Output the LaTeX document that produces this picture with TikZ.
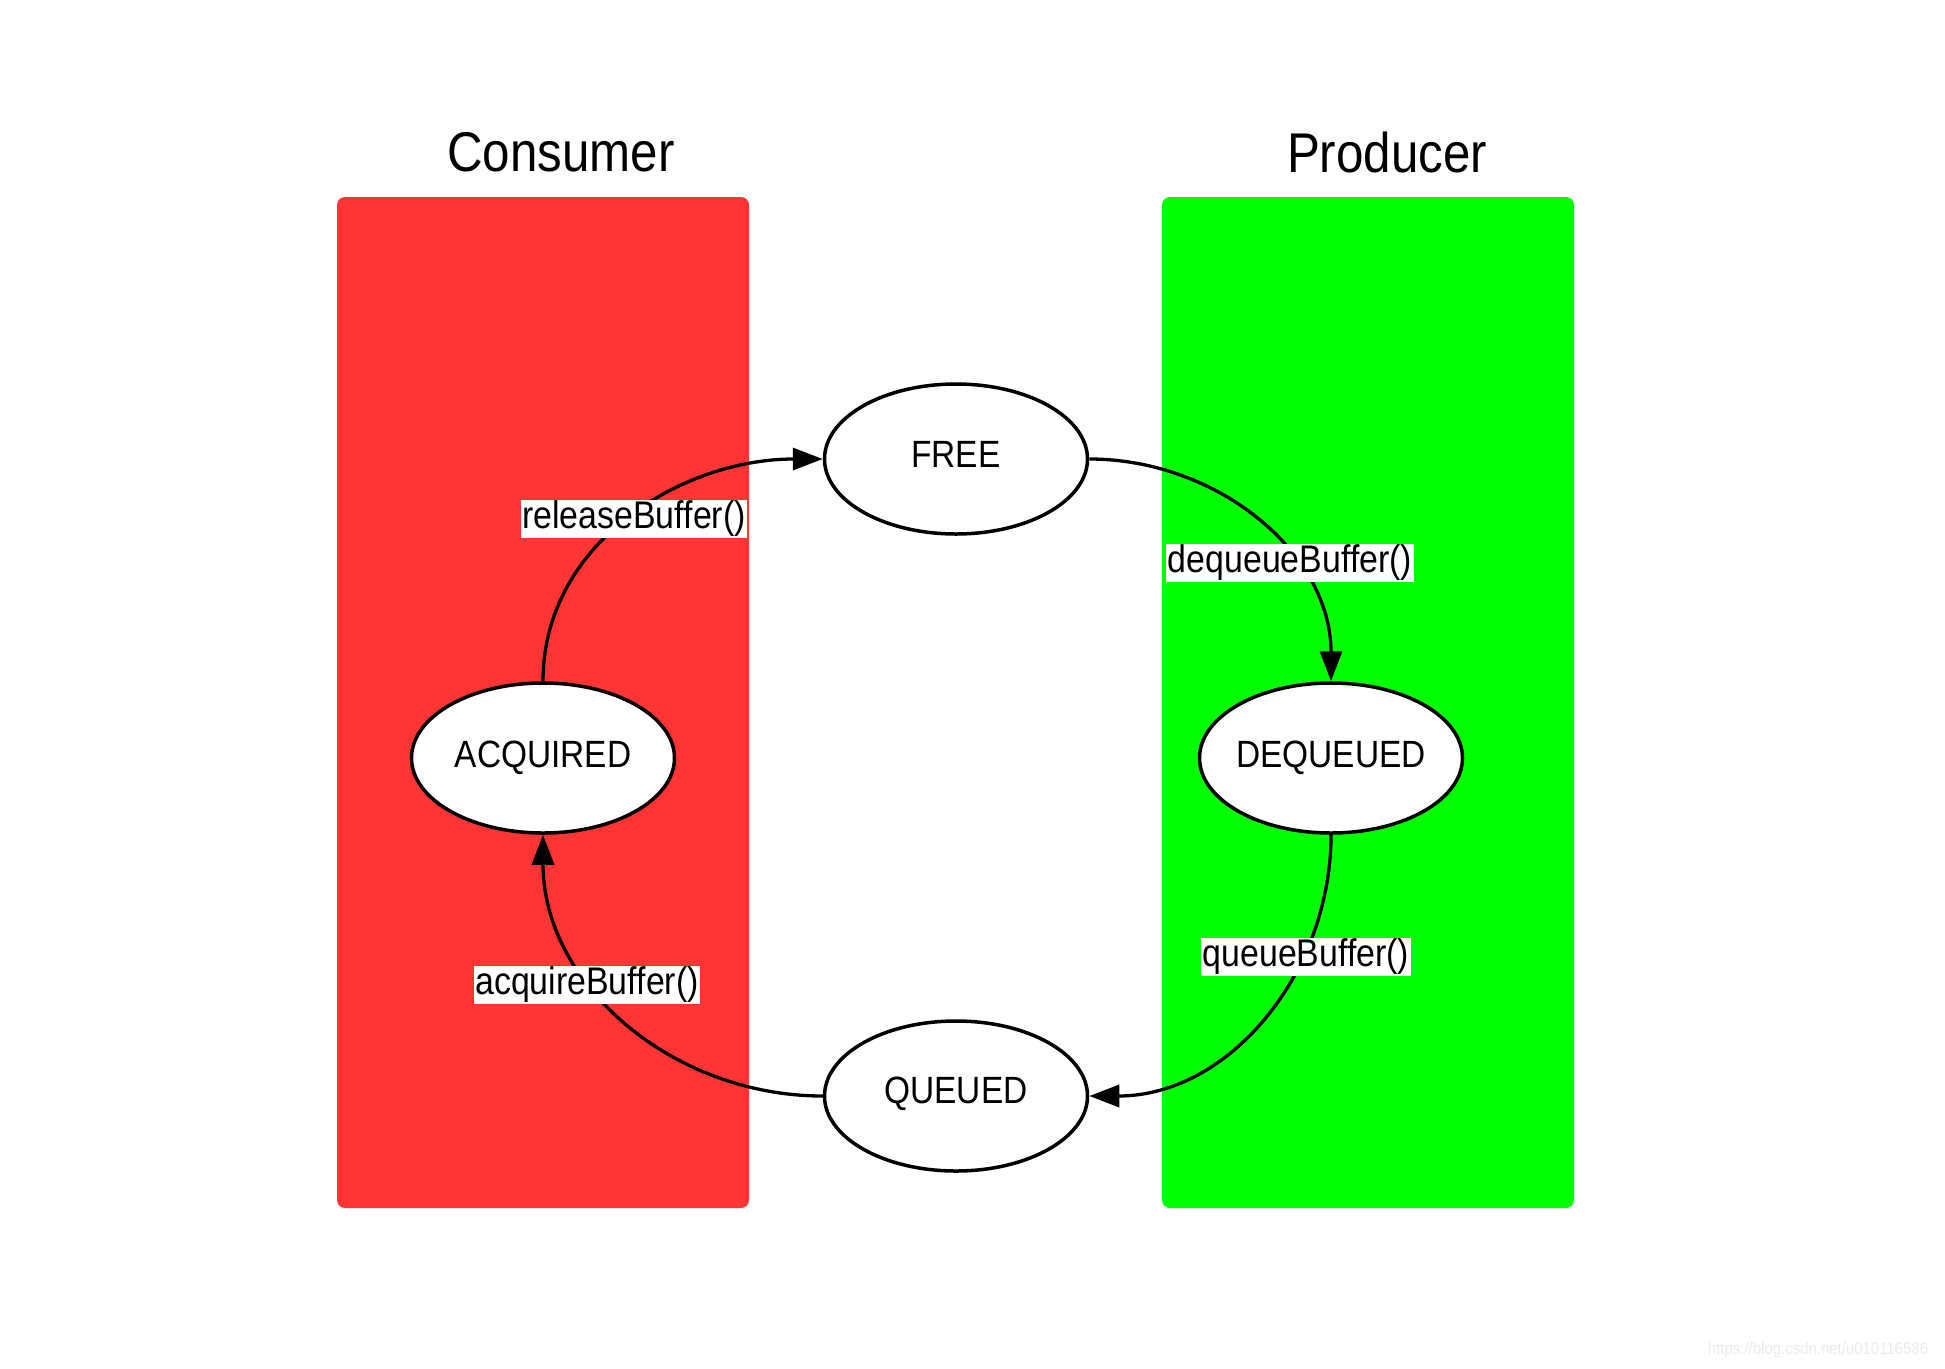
\documentclass[tikz,border=0pt]{standalone}
\usepackage{fontspec}
\setmainfont{Liberation Sans}[FakeStretch=0.88]
\usetikzlibrary{shapes.geometric,arrows.meta}
\definecolor{consred}{RGB}{255,53,53}
\definecolor{prodgreen}{RGB}{0,255,0}
\begin{document}
\begin{tikzpicture}[x=1pt,y=-1pt,
  state/.style={ellipse, draw, line width=3.5pt, fill=white, minimum width=263pt, minimum height=150pt, inner sep=0pt},
  statetext/.style={font=\fontsize{38}{40}\selectfont},
  lbl/.style={fill=white, inner sep=1.5pt, font=\fontsize{38.5}{40}\selectfont},
  lanetitle/.style={font=\fontsize{56}{60}\selectfont},
  flow/.style={line width=3.3pt, -{Triangle[length=30pt,width=22pt]}},
  lane/.style={rounded corners=8pt}]
\useasboundingbox[fill=white] (0,0) rectangle (1945,1368);
% lanes
\fill[lane, consred] (337,197) rectangle (749,1208);
\fill[lane, prodgreen] (1162,197) rectangle (1574,1208);
\node[lanetitle] (tcons) at (561,152) {Consumer};
\node[lanetitle] (tprod) at (1387,152) {Producer};
% states
\node[state] (free) at (956,459) {};
\node[state] (acq) at (543,758) {};
\node[state] (deq) at (1331,758) {};
\node[state] (que) at (956,1096) {};
\node[statetext] (freet) at (956,454) {FREE};
\node[statetext] (acqt) at (543,758) {ACQUIRED};
\node[statetext] (deqt) at (1331,758) {DEQUEUED};
\node[statetext] (quet) at (956,1094) {QUEUED};
% transitions
\draw[flow] (acq.north) to[out=90,in=180] (free.west);
\draw[flow] (free.east) to[out=0,in=90] (deq.north);
\draw[flow] (deq.south) to[out=-90,in=0] (que.east);
\draw[flow] (que.west) to[out=180,in=-90] (acq.south);
% labels
\node[lbl] (lrel) at (634,519) {releaseBuffer()};
\node[lbl] (ldeq) at (1290,563) {dequeueBuffer()};
\node[lbl] (lque) at (1306,957) {queueBuffer()};
\node[lbl] (lacq) at (587,985) {acquireBuffer()};
% watermark
\node[text=black!8, font=\fontsize{17}{20}\selectfont] (wm) at (1818,1350) {https://blog.csdn.net/u010116586};
\end{tikzpicture}
\end{document}
